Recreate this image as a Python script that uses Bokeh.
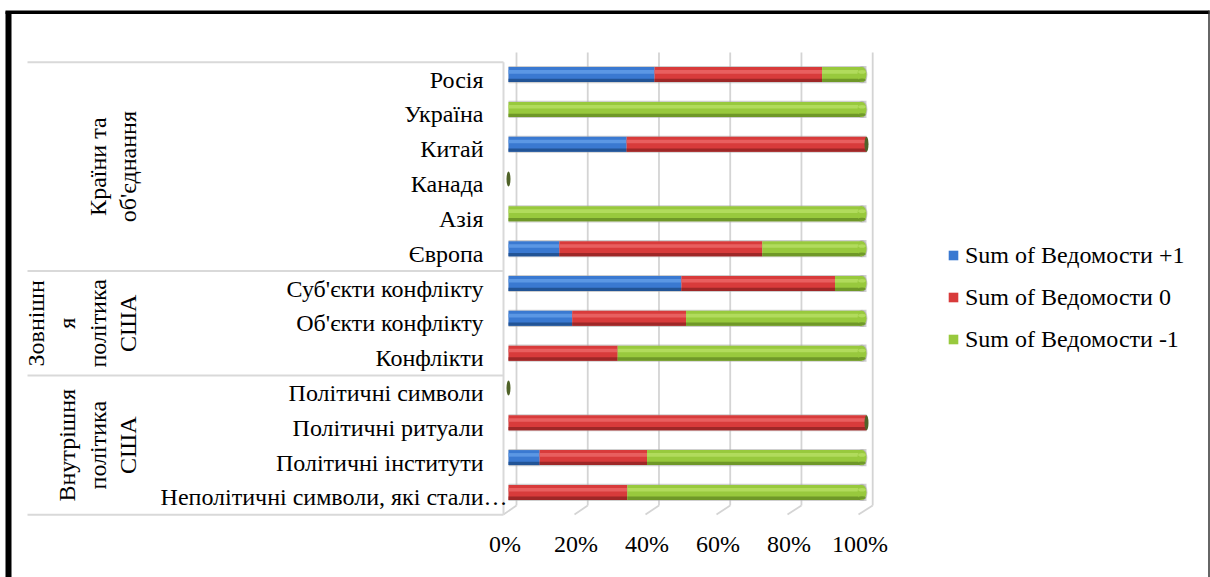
import numpy as np
from bokeh.plotting import figure
from bokeh.models import Range1d, LinearAxis, FixedTicker, Legend, LegendItem
from bokeh.core.properties import value
from bokeh.embed import file_html
from bokeh.resources import INLINE

# ---------------- data (top row first, as displayed) ----------------
categories = ["Росія", "Україна", "Китай", "Канада", "Азія", "Європа",
              "Суб'єкти конфлікту", "Об'єкти конфлікту", "Конфлікти",
              "Політичні символи", "Політичні ритуали", "Політичні інститути",
              "Неполітичні символи, які стали…"]
plus1 = [40.8, 0, 33.0, 0, 0, 14.2, 48.3, 17.8, 0, 0, 0, 8.7, 0]
zero = [46.8, 0, 67.0, 0, 0, 56.7, 42.9, 31.8, 30.5, 0, 100, 30.0, 33.2]
minus1 = [12.4, 100, 0, 0, 100, 29.1, 8.8, 50.4, 69.5, 0, 0, 61.3, 66.8]
groups = ["Країни та\nоб'єднання", "Зовнішн\nя\nполітика\nСША", "Внутрішня\nполітика\nСША"]
group_sizes = [6, 3, 4]
series_names = ["Sum of Ведомости +1", "Sum of Ведомости 0", "Sum of Ведомости -1"]
tick_values = [0, 20, 40, 60, 80, 100]
tick_labels = ["0%", "20%", "40%", "60%", "80%", "100%"]

# ---------------- styling / layout ----------------
base_colors = ["#3a79d1", "#d83b3b", "#98c93d"]
hi_colors = ["#5f9ae6", "#ea6464", "#b4dd5f"]
dark_colors = ["#1f4d8c", "#942424", "#678f25"]
EMPTY_CAP = "#4f6228"
FONT = "'Liberation Serif', 'Times New Roman', serif"
FS = "24px"

W, H = 1210, 577
X0, XS = 508.0, 3.58      # px of 0 %, px per %
YB, YS = 514.3, 34.815    # px of category-axis bottom, px per category


def xd(px):
    return (px - X0) / XS


def yd(py):
    return (YB - py) / YS


BAR_UP = 5 / YS
BH = 15 / YS
CAPW = 9 / XS

p = figure(width=W, height=H, x_range=Range1d(xd(0), xd(W)), y_range=Range1d(yd(H), yd(0)),
           min_border=0, toolbar_location=None, output_backend="svg",
           x_axis_location=None, y_axis_location=None, outline_line_color=None,
           background_fill_color="white", border_fill_color="white")
p.grid.visible = False

# front range used by the percentage axis (labels sit under the front floor edge)
FX0, FXS = 504.5, 3.55
p.extra_x_ranges = {"front": Range1d((0 - FX0) / FXS, (W - FX0) / FXS)}

# ---------------- outer frame ----------------
p.line([xd(8), xd(8)], [yd(11), yd(H + 5)], line_color="black", line_width=6)
p.line([xd(5), xd(1209)], [yd(11.7), yd(11.7)], line_color="black", line_width=3.5)
p.line([xd(1208.5), xd(1208.5)], [yd(10), yd(H + 5)], line_color="#333333", line_width=1.5)

# ---------------- back wall gridlines + floor ----------------
GRID = "#d4d4d4"
for t in tick_values:
    bx = 516 + t * 3.562
    fx = 503 + t * 3.55
    p.line([xd(bx), xd(bx)], [yd(52), yd(505)], line_color=GRID, line_width=1.8)
    p.line([xd(bx), xd(fx)], [yd(505), yd(514)], line_color=GRID, line_width=1.8)

# ---------------- category box ----------------
n = len(categories)
BOX = "#d9d9d9"
bounds = [n]
for s in group_sizes:
    bounds.append(bounds[-1] - s)
for b in bounds:
    p.line([xd(27), xd(503)], [b, b], line_color=BOX, line_width=2)
p.line([xd(503), xd(503)], [0, n], line_color=BOX, line_width=2)

# ---------------- bars ----------------
idx = np.arange(n)[::-1].astype(float)
ybar = idx + 0.5 + BAR_UP
vals = [np.array(plus1, float), np.array(zero, float), np.array(minus1, float)]
total = vals[0] + vals[1] + vals[2]
green = vals[2]

has = total > 0
# soft grey outline / shadow
p.hbar(y=ybar[has], left=0, right=total[has], height=BH + 2.2 / YS,
       fill_color="#a8a8a8", fill_alpha=0.55, line_color=None)
gmask = green > 0
p.ellipse(x=(total - CAPW / 2)[gmask], y=ybar[gmask], width=CAPW + 2 / XS, height=BH + 2.2 / YS,
          fill_color="#a8a8a8", fill_alpha=0.55, line_color=None)

renderers = []
left = np.zeros(n)
for k in range(3):
    v = vals[k]
    right = left + v
    m = v > 0
    rd = right.copy()
    if k == 2:
        rd = np.where(gmask, right - CAPW / 2, right)
    r = p.hbar(y=ybar[m], left=left[m], right=rd[m], height=BH,
               fill_color=base_colors[k], line_color=None)
    p.hbar(y=(ybar + BH * 0.18)[m], left=left[m], right=rd[m], height=BH * 0.24,
           fill_color=hi_colors[k], line_color=None, fill_alpha=0.9)
    p.hbar(y=(ybar - BH * 0.39)[m], left=left[m], right=rd[m], height=BH * 0.22,
           fill_color=dark_colors[k], line_color=None, fill_alpha=0.85)
    renderers.append(r)
    left = right

# rounded end caps
p.ellipse(x=(total - CAPW / 2)[gmask], y=ybar[gmask], width=CAPW, height=BH,
          fill_color=base_colors[2], line_color=None)
p.ellipse(x=(total - CAPW / 2)[gmask], y=(ybar + BH * 0.18)[gmask], width=CAPW * 0.85, height=BH * 0.24,
          fill_color=hi_colors[2], line_color=None, fill_alpha=0.9)
p.ellipse(x=(total - CAPW / 2)[gmask], y=(ybar - BH * 0.36)[gmask], width=CAPW * 0.8, height=BH * 0.2,
          fill_color=dark_colors[2], line_color=None, fill_alpha=0.8)
emask = ~gmask
p.ellipse(x=total[emask], y=ybar[emask], width=4 / XS, height=BH,
          fill_color=EMPTY_CAP, line_color=None)

# ---------------- category labels ----------------
label_x = [xd(483 + (24 if c.endswith("…") else 0)) for c in categories]
p.text(x=label_x, y=idx + 0.5, text=categories, text_align="right", text_baseline="middle",
       text_font=value(FONT), text_font_size=FS, text_color="black")

# ---------------- group labels (vertical) ----------------
gy = []
upper = n
for s in group_sizes:
    gy.append(upper - s / 2)
    upper -= s
p.text(x=[xd(141)] * len(groups), y=gy, text=groups, angle=np.pi / 2,
       text_align="center", text_baseline="bottom", text_line_height=1.18,
       text_font=value(FONT), text_font_size=FS, text_color="black")

# ---------------- percentage axis ----------------
xaxis = LinearAxis(x_range_name="front", ticker=FixedTicker(ticks=tick_values),
                   major_label_overrides={t: l for t, l in zip(tick_values, tick_labels)},
                   fixed_location=yd(530), axis_line_color=None,
                   major_tick_line_color=None, minor_tick_line_color=None,
                   major_tick_out=0, minor_tick_out=0, major_label_standoff=0,
                   major_label_text_font=FONT, major_label_text_font_size=FS,
                   major_label_text_color="black")
p.add_layout(xaxis, "below")

# ---------------- legend ----------------
legend = Legend(items=[LegendItem(label=nm, renderers=[r]) for nm, r in zip(series_names, renderers)],
                location=(947, 223), orientation="vertical", padding=0, margin=0, spacing=12,
                glyph_width=12, glyph_height=12, label_height=30, label_standoff=6,
                label_text_font=FONT, label_text_font_size=FS, label_text_color="black",
                border_line_color=None, background_fill_alpha=0)
p.add_layout(legend)

open("out.html", "w").write(file_html(p, INLINE))
